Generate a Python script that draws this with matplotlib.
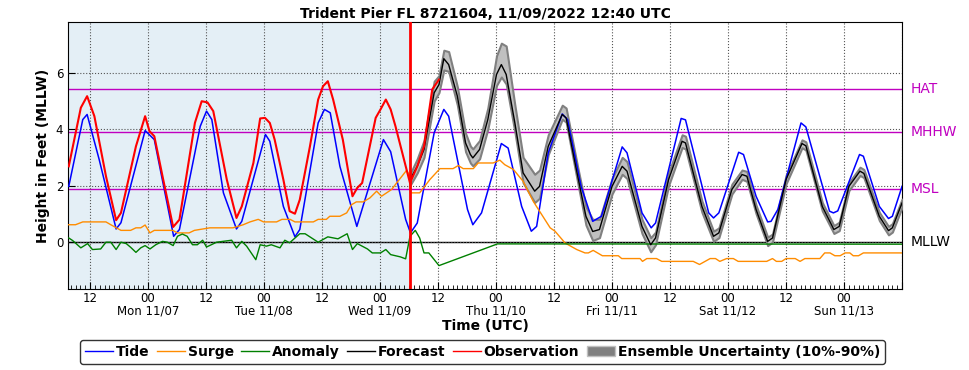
import matplotlib
matplotlib.use("Agg")
import matplotlib.pyplot as plt
import matplotlib.dates as mdates
from matplotlib.lines import Line2D
from matplotlib.patches import Patch
import numpy as np
import pandas as pd

# times are hours after 2022-11-06 00:00 UTC
base = pd.Timestamp("2022-11-06 00:00")

tide_t = [7.6, 10.5, 11.4, 13.9, 17.4, 18.4, 23.4, 25.3, 29.3, 30.5, 34.8, 36.1, 37.2, 39.6,
          42.3, 43.4, 48.3, 49.2, 52.0, 54.4, 55.4, 59.2, 60.5, 61.7, 63.7, 67.2, 72.7, 74.2,
          77.3, 78.3, 79.7, 83.2, 85.2, 86.2, 90.1, 91.2, 93.0, 97.1, 98.5, 101.3, 103.3,
          104.4, 106.8, 109.7, 110.8, 113.6, 116.0, 117.8, 122.1, 123.1, 126.2, 128.1, 129.0,
          134.3, 135.2, 140.0, 141.0, 142.1, 146.2, 147.2, 149.8, 152.2, 152.9, 154.3, 159.1,
          160.1, 165.0, 165.8, 166.7, 171.2, 172.0, 175.3, 177.2, 178.0, 180.0]
tide_v = [1.97, 4.34, 4.52, 2.92, 0.46, 0.68, 3.95, 3.63, 0.20, 0.44, 4.10, 4.64, 4.34, 1.74,
          0.46, 0.73, 3.81, 3.57, 1.26, 0.18, 0.44, 4.22, 4.70, 4.58, 2.68, 0.55, 3.63, 3.20,
          0.80, 0.32, 0.67, 3.87, 4.70, 4.46, 1.15, 0.61, 1.03, 3.49, 3.33, 1.26, 0.38,
          0.55, 3.16, 4.54, 4.34, 1.97, 0.73, 0.91, 3.37, 3.16, 1.03, 0.50, 0.67,
          4.38, 4.33, 1.03, 0.85, 1.03, 3.18, 3.10, 1.62, 0.71, 0.73, 1.15, 4.22,
          4.08, 1.09, 1.03, 1.10, 3.10, 3.04, 1.26, 0.83, 0.91, 1.97]

obs_t = [7.6, 10.1, 11.4, 12.9, 15.3, 17.4, 18.4, 21.5, 23.4, 24.3, 25.3, 27.0, 29.2, 30.5,
         33.7, 35.1, 36.3, 37.5, 40.3, 42.3, 43.4, 45.8, 47.2, 48.2, 49.2, 50.2, 52.0, 53.3,
         54.4, 55.4, 57.5, 59.2, 60.2, 61.2, 62.3, 64.3, 66.3, 67.3, 68.3, 71.1, 72.1, 73.2,
         74.2, 75.2, 78.2, 79.7, 81.1, 82.8, 84.2]
obs_v = [2.68, 4.76, 5.17, 4.46, 2.33, 0.77, 1.03, 3.39, 4.46, 3.93, 3.75, 2.33, 0.53, 0.79,
         4.22, 4.99, 4.95, 4.64, 2.21, 0.85, 1.26, 2.80, 4.38, 4.40, 4.22, 3.63, 2.21, 1.09,
         1.00, 1.50, 3.39, 5.05, 5.52, 5.70, 5.05, 3.63, 1.62, 1.92, 2.09, 4.40, 4.70, 5.05,
         4.70, 4.10, 2.09, 2.68, 3.39, 5.41, 5.76]

surge_t = [7.6, 9.0, 10.5, 15.3, 16.3, 18.4, 20.4, 21.5, 22.5, 23.4, 24.4, 25.3, 29.1, 30.1,
           32.5, 33.6, 36.8, 41.6, 43.7, 45.1, 46.8, 47.9, 50.6, 51.7, 53.4, 54.4, 58.2, 59.2,
           60.9, 61.6, 63.7, 65.1, 66.1, 67.1, 68.5, 69.9, 71.3, 72.3, 74.4, 75.7, 77.5, 78.2,
           78.3, 80.2, 82.3, 84.4, 87.1, 88.2, 89.2, 91.3, 92.3, 95.4, 96.8, 97.8, 99.6, 101.6,
           103.7, 107.2, 108.2, 110.3, 112.7, 114.4, 115.1, 116.1, 118.0, 121.3, 122.0, 125.8,
           126.3, 127.2, 129.2, 130.3, 136.8, 138.1, 140.3, 141.4, 142.3, 143.7, 145.1, 146.1,
           152.0, 153.2, 154.0, 155.1, 156.0, 157.9, 158.9, 159.9, 163.0, 164.0, 165.1, 166.1,
           167.2, 168.2, 169.2, 169.9, 171.0, 172.0, 180.0]
surge_v = [0.61, 0.61, 0.71, 0.71, 0.61, 0.41, 0.41, 0.50, 0.50, 0.60, 0.32, 0.41, 0.41, 0.32,
           0.32, 0.41, 0.50, 0.50, 0.61, 0.71, 0.80, 0.71, 0.71, 0.80, 0.80, 0.71, 0.71, 0.80,
           0.80, 0.91, 0.91, 1.03, 1.32, 1.42, 1.42, 1.56, 1.80, 1.62, 1.86, 2.15, 2.54, 2.33,
           1.74, 1.74, 2.21, 2.60, 2.60, 2.71, 2.60, 2.60, 2.80, 2.80, 2.90, 2.74, 2.57, 2.15,
           1.44, 0.50, 0.38, -0.04, -0.27, -0.39, -0.39, -0.30, -0.49, -0.49, -0.59, -0.59,
           -0.69, -0.59, -0.59, -0.69, -0.69, -0.80, -0.59, -0.59, -0.69, -0.59, -0.59, -0.69,
           -0.69, -0.59, -0.69, -0.69, -0.59, -0.59, -0.69, -0.59, -0.59, -0.39, -0.39, -0.49,
           -0.49, -0.39, -0.39, -0.49, -0.49, -0.39, -0.39]

anom_t = [7.6, 8.4, 10.1, 11.5, 12.5, 14.2, 15.3, 16.3, 17.4, 18.4, 19.5, 20.4, 21.5, 22.5,
          23.4, 24.4, 25.6, 27.0, 28.0, 29.2, 30.1, 31.1, 32.1, 33.2, 34.2, 35.3, 36.1, 38.2,
          39.5, 41.3, 42.3, 43.4, 44.4, 46.3, 47.2, 48.5, 49.5, 51.3, 52.3, 53.3, 55.4, 56.5,
          59.2, 61.2, 63.3, 65.2, 66.3, 67.3, 68.3, 69.4, 70.4, 72.1, 73.2, 74.2, 76.2, 77.3,
          78.2, 79.3, 80.2, 81.1, 82.1, 84.2, 96.3, 180.0]
anom_v = [0.14, 0.05, -0.21, -0.06, -0.27, -0.25, -0.01, -0.01, -0.27, -0.01, -0.06, -0.19,
          -0.37, -0.21, -0.13, -0.25, -0.10, 0.02, -0.01, -0.13, 0.20, 0.28, 0.20, -0.10, -0.10,
          0.06, -0.18, -0.01, 0.02, 0.06, -0.21, 0.02, -0.15, -0.63, -0.10, -0.15, -0.10, -0.21,
          0.06, -0.03, 0.29, 0.29, -0.01, 0.18, 0.11, 0.29, -0.27, -0.06, -0.15, -0.25, -0.39,
          -0.39, -0.27, -0.45, -0.53, -0.60, 0.20, 0.41, 0.14, -0.39, -0.39, -0.84, -0.07, -0.08]

fc_t = [78.2, 79.7, 81.1, 83.2, 84.2, 85.2, 86.2, 88.0, 89.7, 90.7, 91.2, 92.6, 94.3, 96.1,
        97.1, 98.1, 99.9, 101.6, 104.0, 105.0, 106.8, 109.7, 110.5, 112.9, 114.6, 116.0,
        117.4, 120.0, 122.1, 123.1, 126.2, 128.0, 129.0, 131.7, 134.5, 135.2, 138.6, 141.0,
        142.1, 144.8, 146.9, 147.9, 149.8, 152.2, 153.2, 156.0, 159.3, 160.1, 163.5, 165.9,
        167.0, 169.0, 171.3, 172.1, 175.3, 177.2, 178.0, 180.0]
fc_v = [2.21, 2.68, 3.28, 5.29, 5.58, 6.50, 6.29, 5.17, 3.51, 3.10, 2.98, 3.28, 4.34, 5.94,
        6.29, 5.94, 4.22, 2.45, 1.80, 1.97, 3.39, 4.52, 4.40, 2.33, 0.91, 0.37,
        0.44, 1.97, 2.68, 2.51, 0.55, -0.10, 0.14, 2.21, 3.57, 3.51, 1.26, 0.20,
        0.32, 1.86, 2.39, 2.33, 1.15, 0.02, 0.14, 2.21, 3.49, 3.41, 1.26, 0.44,
        0.55, 1.97, 2.51, 2.43, 0.91, 0.40, 0.50, 1.38]
ens_lo = [2.00, 2.45, 3.00, 5.00, 5.30, 6.10, 6.05, 4.85, 3.20, 2.80, 2.70, 2.95, 4.00, 5.55,
          5.85, 5.60, 3.90, 2.10, 1.40, 1.55, 3.10, 4.35, 4.25, 2.10, 0.60, 0.05,
          0.15, 1.70, 2.40, 2.25, 0.30, -0.35, -0.10, 2.00, 3.35, 3.30, 1.05, 0.02,
          0.15, 1.70, 2.22, 2.15, 1.00, -0.13, 0.00, 2.06, 3.34, 3.26, 1.10, 0.30,
          0.40, 1.82, 2.36, 2.28, 0.76, 0.25, 0.35, 1.23]
ens_hi = [2.40, 2.95, 3.60, 5.70, 5.90, 6.80, 6.75, 5.50, 3.85, 3.40, 3.30, 3.60, 4.75, 6.60,
          7.05, 6.95, 4.85, 3.00, 2.40, 2.55, 3.80, 4.85, 4.75, 2.65, 1.25, 0.80,
          0.80, 2.25, 3.00, 2.85, 0.80, 0.15, 0.35, 2.45, 3.80, 3.75, 1.45, 0.38,
          0.50, 2.05, 2.55, 2.50, 1.30, 0.17, 0.28, 2.36, 3.62, 3.55, 1.40, 0.58,
          0.70, 2.10, 2.65, 2.57, 1.05, 0.55, 0.65, 1.52]

datum_names = ["HAT", "MHHW", "MSL", "MLLW"]
datum_vals = [5.43, 3.90, 1.88, 0.0]
datum_cols = ["#c000c0", "#c000c0", "#c000c0", "black"]

nowcast_h = 78.2
x_start_h, x_end_h = 7.45, 180.0


def tt(hours):
    return base + pd.to_timedelta(np.asarray(hours), unit="h")


fig = plt.figure(figsize=(9.69, 3.70), dpi=100)
ax = fig.add_axes([0.0702, 0.2189, 0.8607, 0.7216])

ax.axvspan(tt(x_start_h), tt(nowcast_h), color="#e4eff6", zorder=0)

for v, c in zip(datum_vals, datum_cols):
    ax.axhline(v, color=c, lw=1.0, zorder=2)

ax.fill_between(tt(fc_t), ens_lo, ens_hi, facecolor="#c0c0c0", edgecolor="#808080",
                lw=1.5, zorder=3)
ax.plot(tt(tide_t), tide_v, color="blue", lw=1.1, zorder=4)
ax.plot(tt(surge_t), surge_v, color="darkorange", lw=1.0, zorder=4)
ax.plot(tt(anom_t), anom_v, color="green", lw=1.0, zorder=4)
ax.plot(tt(fc_t), fc_v, color="black", lw=1.0, zorder=5)
ax.plot(tt(obs_t), obs_v, color="red", lw=1.5, zorder=5)
ax.axvline(tt(nowcast_h), color="red", lw=2.0, zorder=6)

ax.set_xlim(tt(x_start_h), tt(x_end_h))
ax.set_ylim(-1.67, 7.8)
ax.set_yticks([0, 2, 4, 6])

ax.xaxis.set_major_locator(mdates.HourLocator(byhour=[0, 12]))
ax.xaxis.set_minor_locator(mdates.HourLocator())
last_tick = mdates.date2num(tt(x_end_h))


def fmt(x, pos=None):
    if abs(x - last_tick) < 1e-6:
        return ""
    d = mdates.num2date(x)
    if d.hour == 0:
        return d.strftime("00\n%a %m/%d")
    return "12"


ax.xaxis.set_major_formatter(plt.FuncFormatter(fmt))
ax.tick_params(axis="both", which="major", direction="in", length=5, labelsize=8.5)
ax.tick_params(axis="x", which="major", pad=2)
ax.tick_params(axis="x", which="minor", direction="in", length=3)
ax.grid(True, which="major", color="#555555", ls=":", lw=0.8)
ax.set_axisbelow(False)
fig.canvas.draw()
for tk in ax.xaxis.get_major_ticks():
    tk.label1.set_linespacing(1.0)

for name, v, c in zip(datum_names, datum_vals, datum_cols):
    ax.text(1.01, v, name, color=c, fontsize=10, va="center", ha="left",
            transform=ax.get_yaxis_transform())

ax.set_title("Trident Pier FL 8721604, 11/09/2022 12:40 UTC", fontsize=10,
             fontweight="bold", pad=3)
ax.set_ylabel("Height in Feet (MLLW)", fontsize=10, fontweight="bold")
ax.set_xlabel("Time (UTC)", fontsize=10, fontweight="bold", labelpad=1)

handles = [Line2D([], [], color="blue", lw=1), Line2D([], [], color="darkorange", lw=1),
           Line2D([], [], color="green", lw=1), Line2D([], [], color="black", lw=1),
           Line2D([], [], color="red", lw=1), Patch(facecolor="#808080", edgecolor="#c0c0c0")]
labels = ["Tide", "Surge", "Anomaly", "Forecast", "Observation",
          "Ensemble Uncertainty (10%-90%)"]
fig.legend(handles, labels, loc="center", bbox_to_anchor=(0.498, 0.049), ncol=6,
           prop={"weight": "bold", "size": 10}, handlelength=2.0, handletextpad=0.2,
           columnspacing=0.55, frameon=True, edgecolor="black", fancybox=True,
           borderpad=0.35)

fig.savefig("out.png", dpi=100)
